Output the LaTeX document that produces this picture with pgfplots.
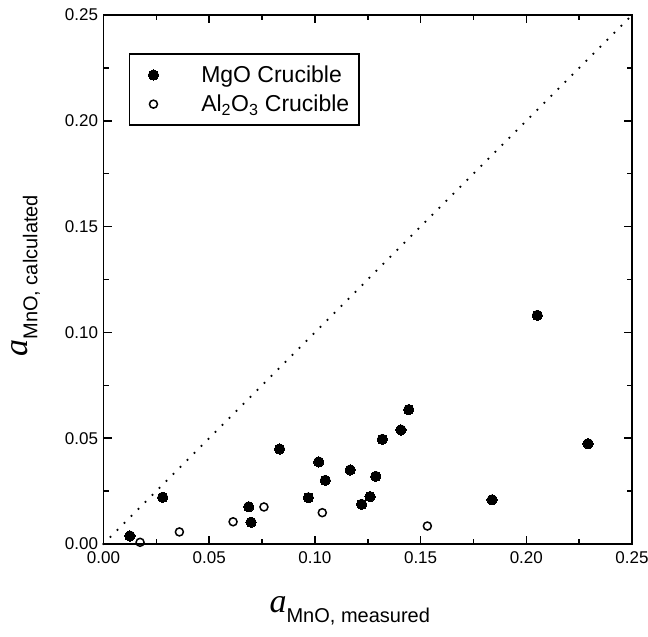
\documentclass[border=0pt]{standalone}
\usepackage{fontspec}
\setmainfont{Liberation Sans}
\newfontfamily\timesfont{Liberation Serif}
\usepackage{pgfplots}
\pgfplotsset{compat=1.18}
\begin{document}
\begin{tikzpicture}
\useasboundingbox (-103.5pt,-93pt) rectangle (544.5pt,544pt);
\begin{axis}[
  scale only axis,
  width=528.5pt, height=529pt,
  xmin=0, xmax=0.25, ymin=0, ymax=0.25,
  xtick={0,0.05,...,0.25}, ytick={0,0.05,...,0.25},
  minor tick num=1,
  tick align=inside,
  major tick length=8pt, minor tick length=5pt,
  axis line style={line width=1.8pt},
  every tick/.style={black, line width=1.5pt},
  tick label style={font=\fontsize{17}{17}\selectfont},
  xticklabel style={yshift=-4pt},
  yticklabel style={xshift=-2pt},
  /pgf/number format/.cd, fixed, fixed zerofill, precision=2, assume math mode=true,
  /pgfplots/.cd,
  clip=false,
  xlabel={{\fontsize{34}{34}\selectfont\timesfont\itshape a}\raisebox{-10pt}{\fontsize{20}{20}\selectfont MnO, measured}},
  ylabel={{\fontsize{34}{34}\selectfont\timesfont\itshape a}\raisebox{-10pt}{\fontsize{20}{20}\selectfont MnO, calculated}},
  xlabel style={at={(axis description cs:0.466,-0.1304)}, anchor=base, inner sep=0pt},
  ylabel style={at={(axis description cs:-0.144,0.507)}, anchor=base, inner sep=0pt},
  mylegimg/.style={legend image code/.code={\draw[##1] plot coordinates {(17pt,0pt)}; \path (0pt,-3pt) (60pt,3pt);}},
  legend style={at={(axis description cs:0.048,0.928)}, anchor=north west,
    draw=black, line width=1.6pt, inner xsep=6pt, inner ysep=10pt,
    font=\fontsize{23}{25}\selectfont, row sep=7pt,
    nodes={inner xsep=4pt}},
  legend cell align=left,
]
\addplot[only marks, mark=*, mark size=5.2pt, black, mark options={fill=black, line width=0pt}, mylegimg] coordinates {
(0.0125,0.0038) (0.0280,0.0221) (0.0687,0.0176) (0.0698,0.0103) (0.0833,0.0449)
(0.0969,0.0219) (0.1018,0.0388) (0.1049,0.0301) (0.1167,0.0350) (0.1221,0.0188)
(0.1261,0.0224) (0.1288,0.0320) (0.1319,0.0495) (0.1407,0.0539) (0.1444,0.0635)
(0.1838,0.0209) (0.2292,0.0474) (0.2052,0.1081)
};
\addlegendentry{MgO Crucible}
\addplot[only marks, mark=o, mark size=4pt, black, mark options={fill=white, line width=1.5pt}, mylegimg] coordinates {
(0.0173,0.0008) (0.0359,0.0057) (0.0613,0.0105) (0.0759,0.0175) (0.1035,0.0148) (0.1532,0.0085)
};
\addlegendentry{Al\textsubscript{2}O\textsubscript{3} Crucible}
\addplot[black, line width=2.5pt, line cap=round, dash pattern=on 0pt off 9.9pt, forget plot] coordinates {(0,0) (0.25,0.25)};
\end{axis}
\end{tikzpicture}
\end{document}
